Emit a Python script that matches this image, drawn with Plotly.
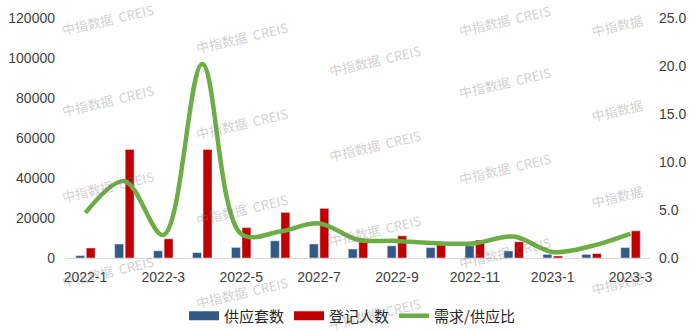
import plotly.graph_objects as go

# Monthly supply, registrations and demand/supply ratio
months = ['2022-1', '2022-2', '2022-3', '2022-4', '2022-5', '2022-6', '2022-7', '2022-8',
          '2022-9', '2022-10', '2022-11', '2022-12', '2023-1', '2023-2', '2023-3']
supply = [1200, 7000, 3600, 2700, 5300, 8600, 7000, 4500, 6100, 5200, 6100, 3500, 1800, 1800, 5200]
registered = [5000, 54300, 9600, 54300, 15200, 22800, 24800, 8000, 11100, 6600, 9000, 8100, 1000, 2200, 13600]
ratio = [4.7, 8.0, 2.4, 20.2, 2.5, 2.75, 3.6, 1.9, 1.78, 1.53, 1.53, 2.23, 0.63, 1.25, 2.54]
tick_months = months[::2]

BLUE = '#335A85'
RED = '#C00000'
GREEN = '#6DAD45'

W, H = 700, 332
L, R, T, B = 66, 50, 18, 74
PW, PH = W - L - R, H - T - B


def paper_x(px):
    return (px - L) / PW


def paper_y(py):
    return (H - B - py) / PH


fig = go.Figure()

fig.add_trace(go.Bar(x=months, y=supply, name='供应套数', marker_color=BLUE,
                     showlegend=False, legendgroup='s'))
fig.add_trace(go.Bar(x=months, y=registered, name='登记人数', marker_color=RED,
                     showlegend=False, legendgroup='r'))

# wide swatches for the bar series in the legend
fig.add_trace(go.Scatter(x=[None], y=[None], mode='lines', name='供应套数',
                         line=dict(color=BLUE, width=9), legendgroup='s'))
fig.add_trace(go.Scatter(x=[None], y=[None], mode='lines', name='登记人数',
                         line=dict(color=RED, width=9), legendgroup='r'))

fig.add_trace(go.Scatter(x=months, y=ratio, name='需求/供应比', mode='lines', yaxis='y2',
                         line=dict(color=GREEN, width=4.5, shape='spline', smoothing=1.0)))

# repeated watermark
wm_full = '中指数据  CREIS'
wm_short = '中指数据'
marks = []
for x, ys in [(108, [20, 100, 186, 271]), (242, [37, 123, 209, 292]),
              (375, [60, 145, 230, 313]), (505, [21, 82, 168, 252])]:
    for y in ys:
        marks.append((x, y, wm_full))
for y in [25, 110, 196, 283]:
    marks.append((617, y, wm_short))

annotations = []
for x, y, t in marks:
    annotations.append(dict(
        x=paper_x(x), y=paper_y(y), xref='paper', yref='paper', text=t,
        showarrow=False, textangle=-13, xanchor='center', yanchor='middle',
        font=dict(family='Noto Sans CJK SC', size=13, color='rgba(120,120,120,0.36)')))

tick_font = dict(family='Liberation Sans, Arial', size=14, color='#404040')

fig.update_layout(
    width=W, height=H,
    margin=dict(l=L, r=R, t=T, b=B, pad=0, autoexpand=False),
    paper_bgcolor='white', plot_bgcolor='white',
    barmode='group', bargap=0.46, bargroupgap=0.15,
    xaxis=dict(type='category', categoryorder='array', categoryarray=months,
               tickmode='array', tickvals=tick_months, ticktext=tick_months,
               showgrid=False, showline=True, linecolor='#D9D9D9', linewidth=1,
               ticks='', tickfont=tick_font, ticklabelstandoff=6, zeroline=False),
    yaxis=dict(range=[0, 120000], dtick=20000, tickformat='d', showgrid=False,
               showline=False, zeroline=False, ticks='', tickfont=tick_font,
               ticklabelstandoff=10),
    yaxis2=dict(range=[0, 25], dtick=5, tickformat='.1f', overlaying='y', side='right',
                showgrid=False, showline=False, zeroline=False, ticks='',
                tickfont=tick_font, ticklabelstandoff=8),
    legend=dict(orientation='h', x=paper_x(352), y=paper_y(316), xanchor='center',
                yanchor='middle', font=dict(family='Noto Sans CJK SC', size=15, color='#262626'),
                itemwidth=30, tracegroupgap=0, bgcolor='rgba(0,0,0,0)'),
    annotations=annotations,
)

fig.write_html('out.html')
